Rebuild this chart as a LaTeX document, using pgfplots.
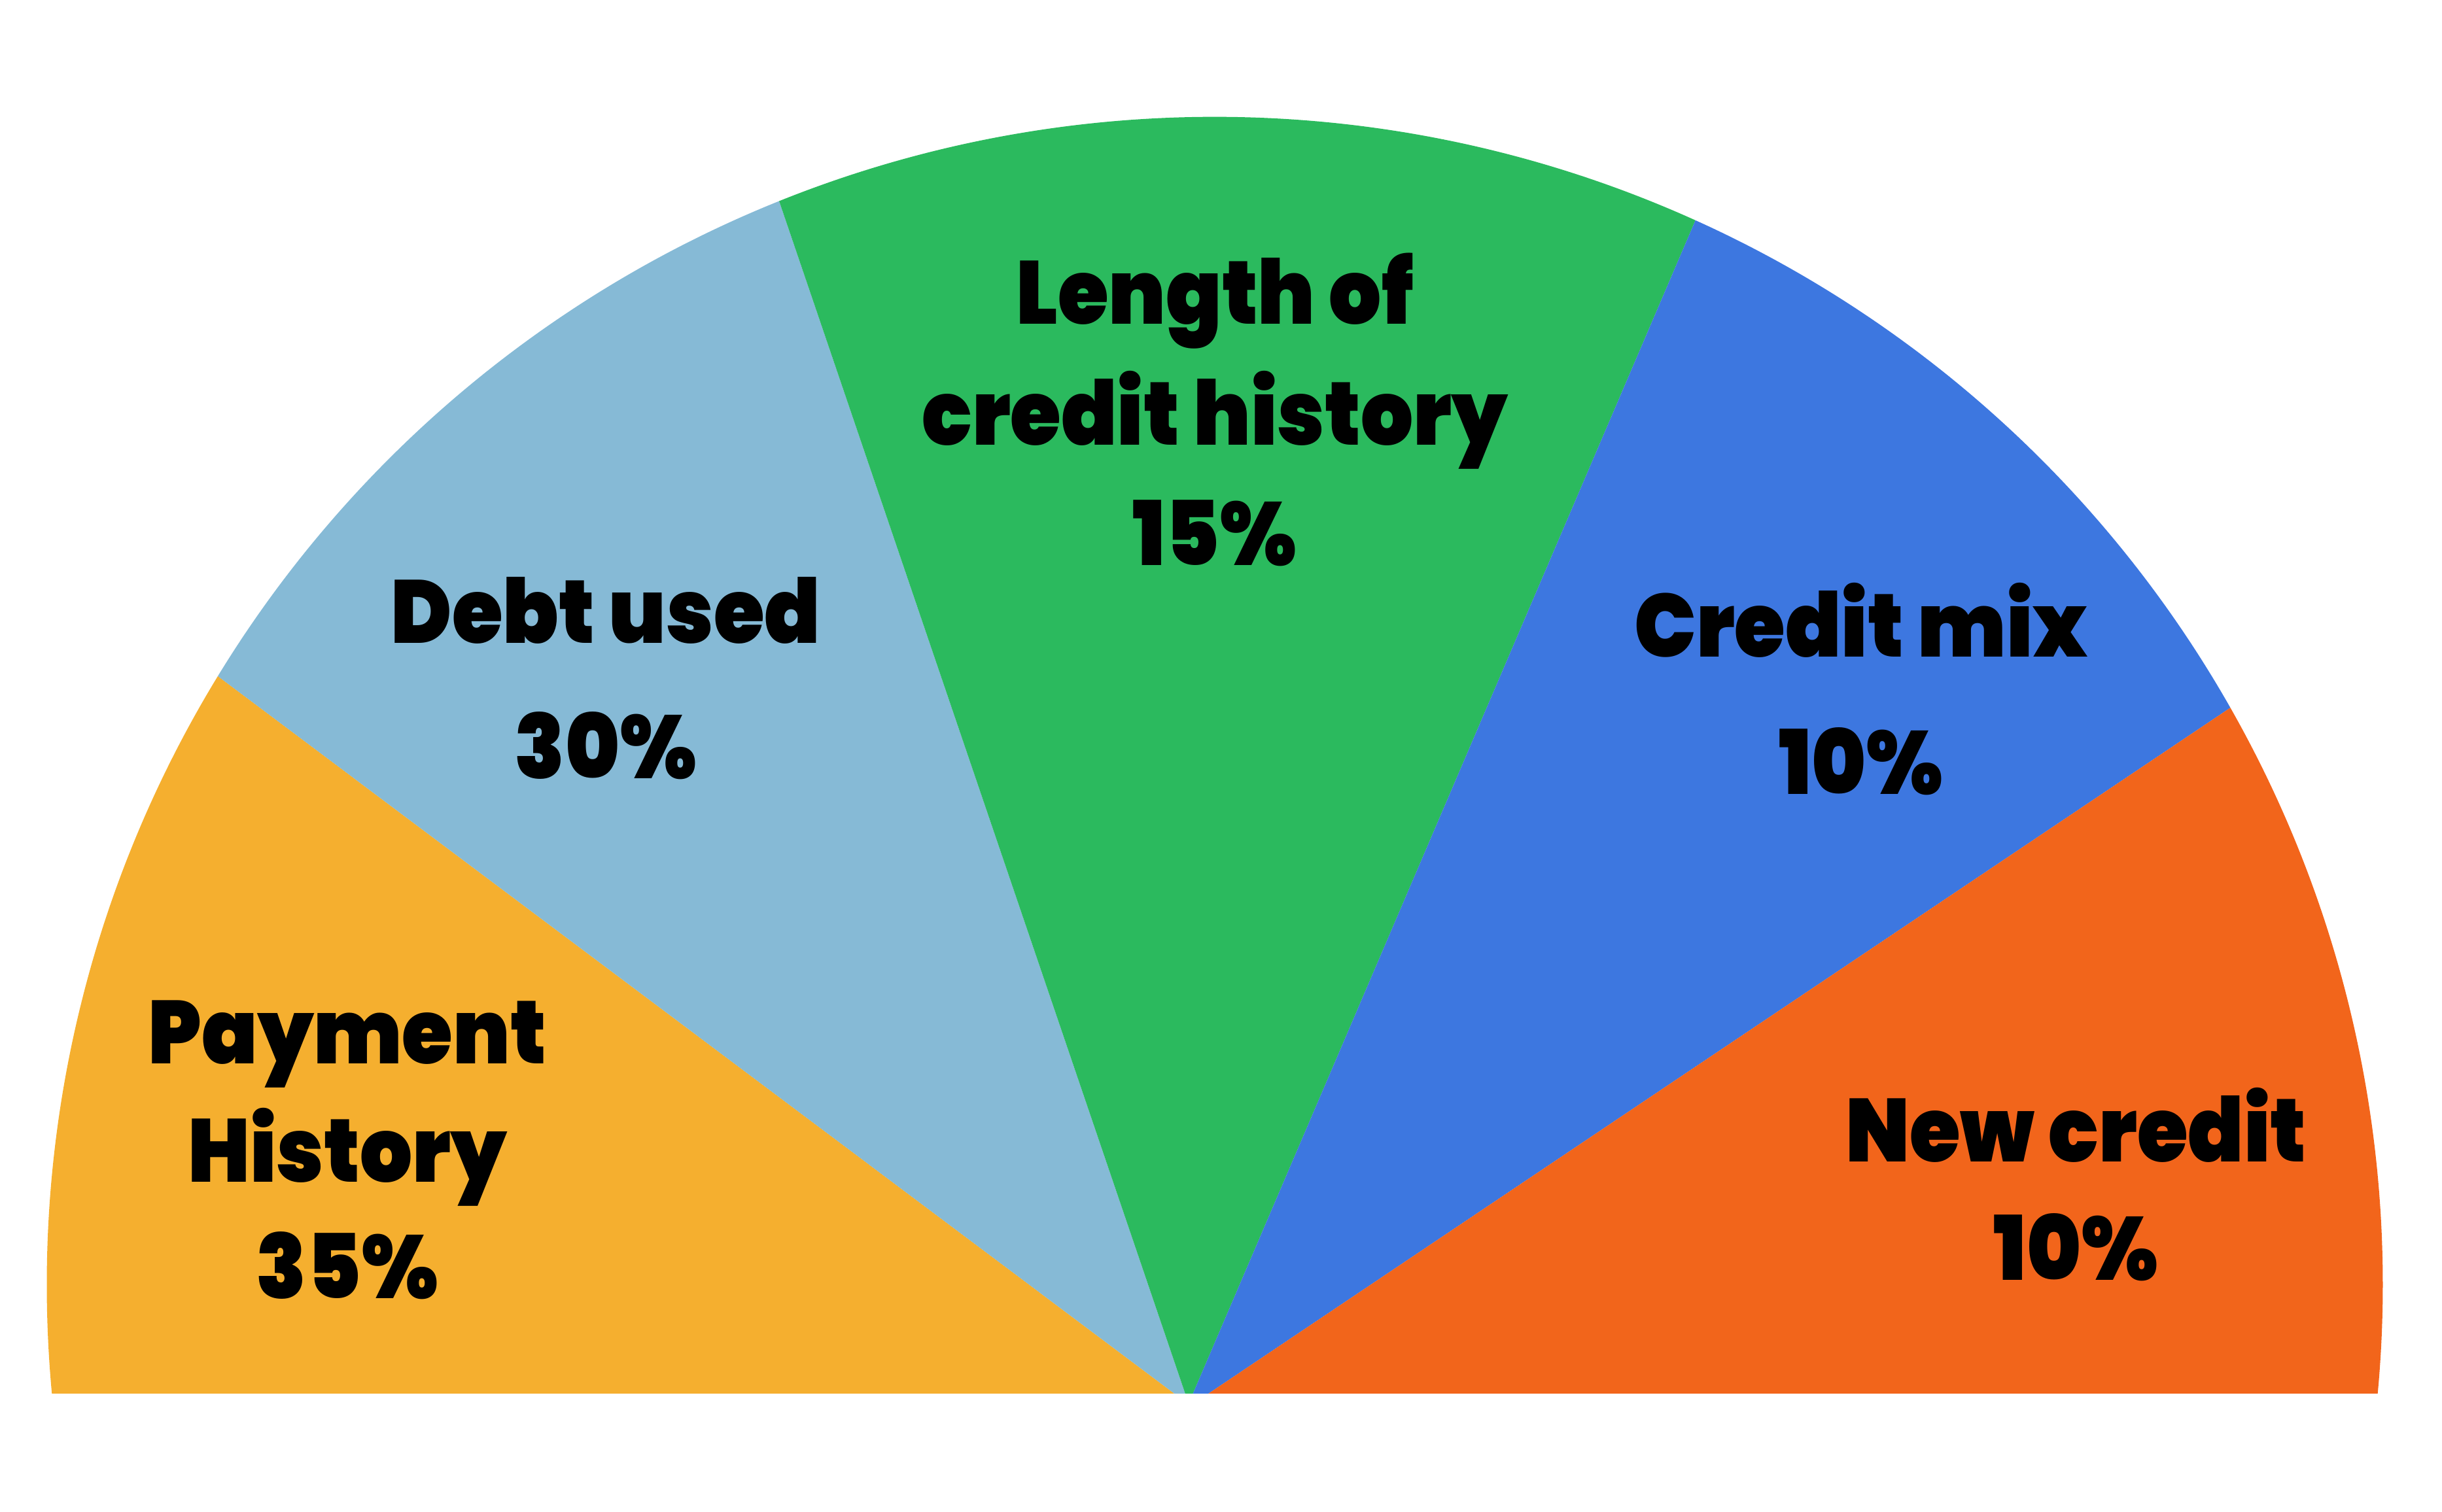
\documentclass[border=0pt]{standalone}
\usepackage{pgfplots}
\pgfplotsset{compat=1.18}
\usepackage{graphicx}
\usepackage{fontspec}
\setmainfont{Poppins Black}
\definecolor{cPay}{RGB}{245,175,47}
\definecolor{cDebt}{RGB}{134,186,214}
\definecolor{cLen}{RGB}{43,186,94}
\definecolor{cMix}{RGB}{61,119,224}
\definecolor{cNew}{RGB}{242,101,27}
\newcommand{\lbl}[1]{\scalebox{0.94}[1.02]{#1}}
\begin{document}
\begin{tikzpicture}
\begin{axis}[
  scale only axis, width=15.68cm, height=9.71cm,
  xmin=0, xmax=1568, ymin=0, ymax=971,
  hide axis, clip=false
]
% circle centre (780,146), radius 750 units (= 7.5cm); baseline y = 76
% wedge boundaries (angle on the circle) and apex points on the baseline
\fill[cPay] (axis cs:754,76) -- (axis cs:{780+750*cos(148.6)},{146+750*sin(148.6)})
   arc[start angle=148.6, end angle=185.36, radius=7.5cm] -- cycle;
\fill[cDebt] (axis cs:754,76) -- (axis cs:{780+750*cos(148.6)},{146+750*sin(148.6)})
   arc[start angle=148.6, end angle=111.9, radius=7.5cm] -- (axis cs:761,76) -- cycle;
\fill[cLen] (axis cs:761,76) -- (axis cs:{780+750*cos(111.9)},{146+750*sin(111.9)})
   arc[start angle=111.9, end angle=65.7, radius=7.5cm] -- (axis cs:766,76) -- cycle;
\fill[cMix] (axis cs:766,76) -- (axis cs:{780+750*cos(65.7)},{146+750*sin(65.7)})
   arc[start angle=65.7, end angle=29.6, radius=7.5cm] -- (axis cs:776,76) -- cycle;
\fill[cNew] (axis cs:776,76) -- (axis cs:{780+750*cos(29.6)},{146+750*sin(29.6)})
   arc[start angle=29.6, end angle=-5.36, radius=7.5cm] -- cycle;
% labels
\begin{scope}[every node/.style={anchor=base, inner sep=0pt, font=\fontsize{16}{19}\selectfont}]
\node at (axis cs:780,763) {\lbl{Length of}};
\node at (axis cs:780,685) {\lbl{credit history}};
\node at (axis cs:780,608) {\lbl{15\%}};
\node at (axis cs:389,558) {\lbl{Debt used}};
\node at (axis cs:389,471) {\lbl{30\%}};
\node at (axis cs:223,288) {\lbl{Payment}};
\node at (axis cs:223,212) {\lbl{History}};
\node at (axis cs:223,137) {\lbl{35\%}};
\node at (axis cs:1195,549) {\lbl{Credit mix}};
\node at (axis cs:1195,461) {\lbl{10\%}};
\node at (axis cs:1333,225) {\lbl{New credit}};
\node at (axis cs:1333,149) {\lbl{10\%}};
\end{scope}
\end{axis}
\pgfresetboundingbox
\path (current axis.south west) rectangle (current axis.north east);
\end{tikzpicture}
\end{document}
